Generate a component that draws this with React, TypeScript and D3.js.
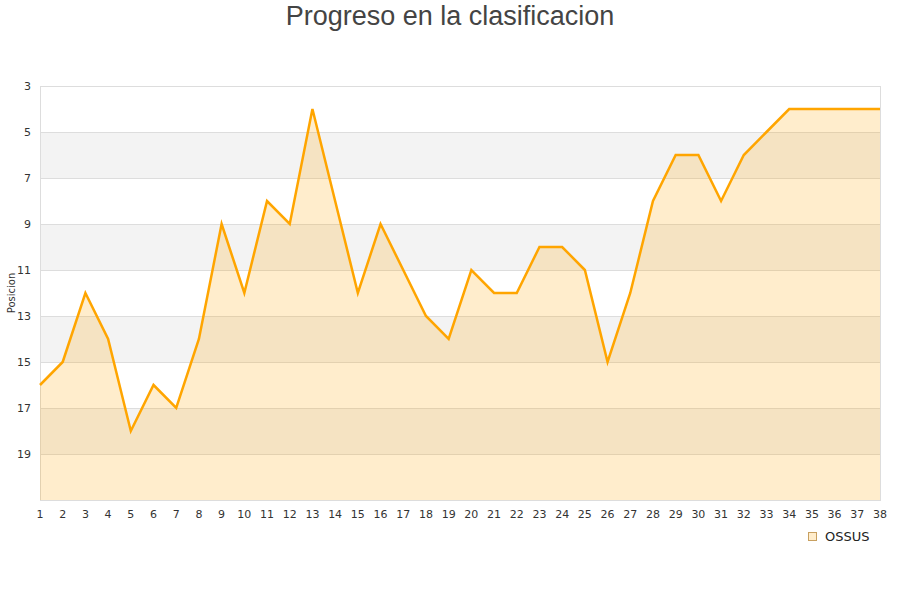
import { useEffect, useRef } from 'react';
import * as d3 from 'd3';

const jornadas = d3.range(1, 39);
const posiciones = [
  16, 15, 12, 14, 18, 16, 17, 14, 9, 12,
  8, 9, 4, 8, 12, 9, 11, 13, 14, 11,
  12, 12, 10, 10, 11, 15, 12, 8, 6, 6,
  8, 6, 5, 4, 4, 4, 4, 4,
];
const yTicks = [3, 5, 7, 9, 11, 13, 15, 17, 19];
const teamName = 'OSSUS';
const title = 'Progreso en la clasificacion';

export default function App() {
  const svgRef = useRef<SVGSVGElement>(null);
  const width = 900;
  const height = 600;

  useEffect(() => {
    if (!svgRef.current) return;
    const svg = d3.select(svgRef.current);
    svg.selectAll('*').remove();

    const left = 40, right = 880, top = 86, bottom = 500;

    const x = d3.scaleLinear().domain([1, 38]).range([left, right]);
    const y = d3.scaleLinear().domain([3, 21]).range([top, bottom]);

    svg.append('rect').attr('width', width).attr('height', height).attr('fill', '#fff');

    // Alternating bands
    const bands = [5, 9, 13, 17];
    svg.selectAll('.band')
      .data(bands)
      .enter()
      .append('rect')
      .attr('x', left)
      .attr('width', right - left)
      .attr('y', d => y(d))
      .attr('height', d => y(d + 2) - y(d))
      .attr('fill', '#f3f3f3');

    // Grid lines
    svg.selectAll('.grid')
      .data(yTicks.slice(1))
      .enter()
      .append('line')
      .attr('x1', left)
      .attr('x2', right)
      .attr('y1', d => y(d) + 0.5)
      .attr('y2', d => y(d) + 0.5)
      .attr('stroke', '#dddddd');

    svg.append('rect')
      .attr('x', left + 0.5)
      .attr('y', top + 0.5)
      .attr('width', right - left)
      .attr('height', bottom - top)
      .attr('fill', 'none')
      .attr('stroke', '#dddddd');

    const data = jornadas.map((j, i) => ({ j, p: posiciones[i] }));

    const area = d3.area<{ j: number; p: number }>()
      .x(d => x(d.j))
      .y0(bottom)
      .y1(d => y(d.p));

    svg.append('path')
      .datum(data)
      .attr('d', area)
      .attr('fill', 'rgba(255,165,0,0.2)');

    const line = d3.line<{ j: number; p: number }>()
      .x(d => x(d.j))
      .y(d => y(d.p));

    svg.append('path')
      .datum(data)
      .attr('d', line)
      .attr('fill', 'none')
      .attr('stroke', '#ffa500')
      .attr('stroke-width', 2.5)
      .attr('stroke-linejoin', 'miter');

    // Y tick labels
    svg.selectAll('.ylab')
      .data(yTicks)
      .enter()
      .append('text')
      .attr('x', 31)
      .attr('y', d => y(d))
      .attr('dy', '0.35em')
      .attr('text-anchor', 'end')
      .attr('font-family', 'DejaVu Sans, sans-serif')
      .attr('font-size', '11px')
      .attr('fill', '#333')
      .text(d => d);

    // X tick labels
    svg.selectAll('.xlab')
      .data(jornadas)
      .enter()
      .append('text')
      .attr('x', d => x(d))
      .attr('y', 518)
      .attr('text-anchor', 'middle')
      .attr('font-family', 'DejaVu Sans, sans-serif')
      .attr('font-size', '11px')
      .attr('fill', '#333')
      .text(d => d);

    // Y axis title
    svg.append('text')
      .attr('transform', `translate(15,${(top + bottom) / 2}) rotate(-90)`)
      .attr('text-anchor', 'middle')
      .attr('font-family', 'DejaVu Sans, sans-serif')
      .attr('font-size', '10px')
      .attr('fill', '#333')
      .text('Posicion');

    // Title
    svg.append('text')
      .attr('x', 450)
      .attr('y', 25)
      .attr('text-anchor', 'middle')
      .attr('font-family', 'Liberation Sans, Arial, sans-serif')
      .attr('font-size', '27px')
      .attr('fill', '#444')
      .text(title);

    // Legend
    svg.append('rect')
      .attr('x', 808.5)
      .attr('y', 532.5)
      .attr('width', 8)
      .attr('height', 8)
      .attr('fill', '#ffedcc')
      .attr('stroke', '#c8a060')
      .attr('stroke-width', 1);

    svg.append('text')
      .attr('x', 825)
      .attr('y', 541)
      .attr('font-family', 'DejaVu Sans, sans-serif')
      .attr('font-size', '13px')
      .attr('fill', '#222')
      .text(teamName);
  }, []);

  return (
    <svg
      ref={svgRef}
      width={width}
      height={height}
      style={{ display: 'block', position: 'absolute', left: 0, top: 0 }}
    />
  );
}
